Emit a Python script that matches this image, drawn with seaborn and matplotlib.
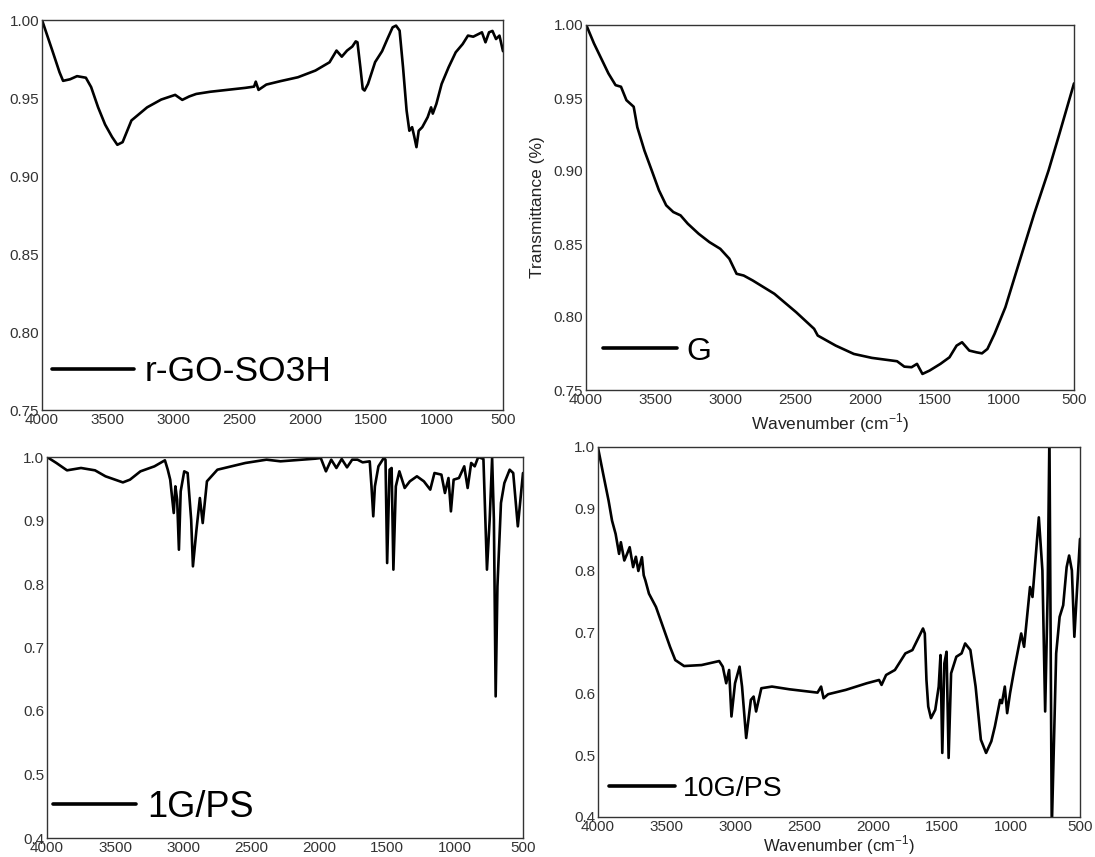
import numpy as np
import pandas as pd
import matplotlib
matplotlib.use("Agg")
import matplotlib.pyplot as plt
import seaborn as sns

# ---------------- data ----------------
rgo_wn = [4000, 3920, 3867, 3840, 3787, 3734, 3667, 3627, 3574, 3521, 3468, 3428, 3388, 3321,
          3202, 3095, 2989, 2935, 2882, 2829, 2723, 2456, 2390, 2377, 2356, 2297, 2190, 2057,
          1924, 1817, 1764, 1724, 1684, 1644, 1618, 1605, 1583, 1565, 1551, 1525, 1471, 1418,
          1378, 1338, 1312, 1285, 1259, 1232, 1211, 1190, 1173, 1157, 1140, 1113, 1072, 1046,
          1033, 1006, 966, 913, 859, 806, 766, 726, 660, 633, 606, 580, 553, 527, 500]
rgo_t = [1.000, 0.980, 0.9665, 0.961, 0.962, 0.964, 0.963, 0.957, 0.944, 0.933, 0.925, 0.920,
         0.9217, 0.9356, 0.944, 0.949, 0.952, 0.9488, 0.951, 0.9526, 0.954, 0.9565, 0.9573,
         0.9605, 0.9552, 0.9586, 0.9608, 0.9633, 0.9676, 0.9729, 0.9804, 0.9765, 0.9804, 0.983,
         0.9863, 0.9857, 0.9697, 0.9558, 0.9548, 0.959, 0.973, 0.980, 0.9878, 0.9953, 0.9964,
         0.9932, 0.9697, 0.942, 0.929, 0.9313, 0.925, 0.9185, 0.929, 0.9313, 0.9377, 0.944,
         0.940, 0.9462, 0.959, 0.9697, 0.9793, 0.9846, 0.990, 0.9893, 0.9921, 0.9857, 0.9921,
         0.993, 0.9878, 0.990, 0.980]

g_wn = [3995, 3943, 3891, 3839, 3788, 3749, 3710, 3658, 3632, 3581, 3529, 3477, 3425, 3374,
        3322, 3270, 3192, 3115, 3037, 2972, 2920, 2869, 2804, 2649, 2493, 2364, 2338, 2209,
        2079, 1950, 1769, 1717, 1665, 1626, 1587, 1536, 1458, 1393, 1342, 1303, 1251, 1199,
        1160, 1121, 1070, 992, 889, 785, 682, 604, 500]
g_t = [0.9993, 0.9874, 0.9771, 0.9668, 0.9588, 0.9577, 0.9485, 0.944, 0.930, 0.914, 0.9005,
       0.8868, 0.8765, 0.8719, 0.8696, 0.8639, 0.857, 0.8513, 0.8467, 0.8399, 0.8296, 0.8284,
       0.825, 0.8159, 0.8033, 0.7919, 0.7873, 0.7804, 0.7747, 0.772, 0.7697, 0.766, 0.7656,
       0.7679, 0.761, 0.7633, 0.7679, 0.7724, 0.7804, 0.7827, 0.777, 0.7758, 0.7751, 0.7781,
       0.7884, 0.8067, 0.8387, 0.8708, 0.9005, 0.9257, 0.960]

ps1_wn = [4000, 3931, 3853, 3750, 3647, 3570, 3442, 3390, 3313, 3210, 3133, 3112, 3094, 3081,
          3068, 3056, 3043, 3030, 3017, 2991, 2966, 2940, 2927, 2901, 2876, 2855, 2824, 2747,
          2541, 2386, 2283, 2026, 1987, 1949, 1910, 1872, 1833, 1794, 1756, 1717, 1679, 1627,
          1614, 1601, 1589, 1563, 1524, 1511, 1499, 1481, 1466, 1453, 1435, 1409, 1370, 1332,
          1280, 1229, 1182, 1151, 1100, 1074, 1048, 1030, 1010, 971, 932, 907, 881, 855, 829,
          791, 765, 745, 727, 714, 701, 688, 662, 637, 598, 572, 538, 500]
ps1_t = [1.000, 0.9906, 0.979, 0.9827, 0.979, 0.9696, 0.960, 0.9643, 0.9774, 0.9853, 0.9948,
         0.980, 0.9643, 0.938, 0.9118, 0.9538, 0.9328, 0.854, 0.946, 0.9774, 0.9748, 0.9013,
         0.8278, 0.8855, 0.9354, 0.896, 0.9617, 0.980, 0.9906, 0.9958, 0.9932, 0.9974, 0.9984,
         0.9774, 0.9958, 0.9827, 0.9969, 0.9837, 0.9958, 0.9958, 0.9916, 0.9932, 0.9538,
         0.9066, 0.9538, 0.9853, 0.9984, 0.9958, 0.833, 0.980, 0.9827, 0.8226, 0.9538, 0.9774,
         0.9512, 0.9617, 0.9696, 0.9617, 0.9486, 0.9748, 0.9722, 0.9433, 0.9669, 0.9144,
         0.9643, 0.9669, 0.9853, 0.9512, 0.9906, 0.9853, 1.000, 0.9969, 0.8226, 0.9013, 0.9984,
         0.9013, 0.623, 0.7963, 0.9276, 0.959, 0.980, 0.9748, 0.8908, 0.9748]

ps10_wn = [4000, 3962, 3923, 3898, 3872, 3847, 3834, 3809, 3790, 3770, 3745, 3725, 3707, 3681,
           3668, 3656, 3630, 3579, 3528, 3477, 3439, 3375, 3248, 3120, 3094, 3069, 3048, 3031,
           3005, 2972, 2954, 2924, 2890, 2870, 2852, 2814, 2737, 2610, 2406, 2380, 2362, 2329,
           2201, 2048, 1959, 1941, 1908, 1844, 1768, 1717, 1640, 1627, 1615, 1602, 1582, 1551,
           1526, 1513, 1500, 1485, 1469, 1454, 1436, 1398, 1360, 1334, 1296, 1258, 1220, 1182,
           1144, 1118, 1080, 1067, 1046, 1029, 1008, 978, 927, 906, 863, 845, 799, 773, 753,
           735, 722, 705, 673, 648, 622, 597, 579, 559, 541, 526, 500]
ps10_t = [0.9989, 0.9559, 0.9128, 0.8805, 0.859, 0.8267, 0.8456, 0.816, 0.826, 0.8375, 0.8052,
          0.822, 0.799, 0.8213, 0.792, 0.7837, 0.7622, 0.7406, 0.7083, 0.676, 0.6545, 0.6448,
          0.6464, 0.6529, 0.6438, 0.6169, 0.6384, 0.563, 0.6169, 0.6438, 0.6115, 0.5281, 0.590,
          0.5953, 0.5711, 0.6088, 0.6115, 0.6071, 0.6017, 0.6115, 0.5926, 0.5991, 0.6061,
          0.6169, 0.6222, 0.6142, 0.6303, 0.6384, 0.6653, 0.6707, 0.7057, 0.6976, 0.6222,
          0.5792, 0.5603, 0.5738, 0.6115, 0.6626, 0.5039, 0.6491, 0.668, 0.4958, 0.633, 0.6599,
          0.6653, 0.6814, 0.6707, 0.6115, 0.5254, 0.5039, 0.5227, 0.5469, 0.590, 0.5846, 0.6115,
          0.5684, 0.6007, 0.6384, 0.6976, 0.676, 0.7729, 0.7568, 0.8859, 0.7998, 0.5711, 0.7622,
          1.02, 0.38, 0.6653, 0.7245, 0.7434, 0.8052, 0.824, 0.7998, 0.6922, 0.7514, 0.851]

labels = ["r-GO-SO3H", "G", "1G/PS", "10G/PS"]
x_ticks = [4000, 3500, 3000, 2500, 2000, 1500, 1000, 500]

# ---------------- style ----------------
sns.set_style("white")
plt.rcParams["font.family"] = ["Liberation Sans", "DejaVu Sans"]
plt.rcParams["mathtext.fontset"] = "custom"
plt.rcParams["mathtext.rm"] = "Liberation Sans"

fig = plt.figure(figsize=(10.95, 8.57), dpi=100)
W, H = 1095, 857

def add_ax(l, r, t, b):
    return fig.add_axes([l / W, (H - b) / H, (r - l) / W, (b - t) / H])

ax1 = add_ax(42, 503, 20, 410)
ax2 = add_ax(586, 1074, 25, 390)
ax3 = add_ax(47, 523, 457, 838)
ax4 = add_ax(598, 1080, 447, 817)

panels = [
    (ax1, rgo_wn, rgo_t, labels[0], (0.75, 1.00), [0.75, 0.80, 0.85, 0.90, 0.95, 1.00], "{:.2f}", 25.5, (0.022, 0.098)),
    (ax2, g_wn, g_t, labels[1], (0.75, 1.00), [0.75, 0.80, 0.85, 0.90, 0.95, 1.00], "{:.2f}", 23, (0.035, 0.105)),
    (ax3, ps1_wn, ps1_t, labels[2], (0.4, 1.0), [0.4, 0.5, 0.6, 0.7, 0.8, 0.9, 1.0], "{:.1f}", 26, (0.013, 0.081)),
    (ax4, ps10_wn, ps10_t, labels[3], (0.4, 1.0), [0.4, 0.5, 0.6, 0.7, 0.8, 0.9, 1.0], "{:.1f}", 20.5, (0.023, 0.075)),
]

for ax, wn, t, lab, ylim, yt, fmt, fs, anchor in panels:
    df = pd.DataFrame({"wn": wn, "T": t})
    sns.lineplot(data=df, x="wn", y="T", ax=ax, sort=False, estimator=None,
                 color="black", linewidth=1.9, label=lab)
    ax.set_xlim(4000, 500)
    ax.set_ylim(*ylim)
    ax.set_xticks(x_ticks)
    ax.set_xticklabels([str(v) for v in x_ticks])
    ax.set_yticks(yt)
    ax.set_yticklabels([fmt.format(v) for v in yt])
    ax.tick_params(axis="both", length=0, labelsize=11, colors="#333333", pad=2)
    ax.tick_params(axis="x", pad=2)
    ax.set_xlabel("")
    ax.set_ylabel("")
    for sp in ax.spines.values():
        sp.set_visible(True)
        sp.set_color("#333333")
        sp.set_linewidth(1.0)
    leg = ax.legend(loc="center left", bbox_to_anchor=anchor, frameon=False,
                    fontsize=fs, handlelength=2.3, handletextpad=0.3,
                    borderpad=0, borderaxespad=0, labelcolor="black")
    for ln in leg.get_lines():
        ln.set_linewidth(2.6)

ax2.set_ylabel("Transmittance (%)", fontsize=12.5, color="#222222", labelpad=6)
ax2.set_xlabel("Wavenumber (cm$^{-1}$)", fontsize=12.5, color="#222222", labelpad=3)
ax4.set_xlabel("Wavenumber (cm$^{-1}$)", fontsize=12, color="#222222", labelpad=0)

fig.savefig("out.png", dpi=100, facecolor="white")
